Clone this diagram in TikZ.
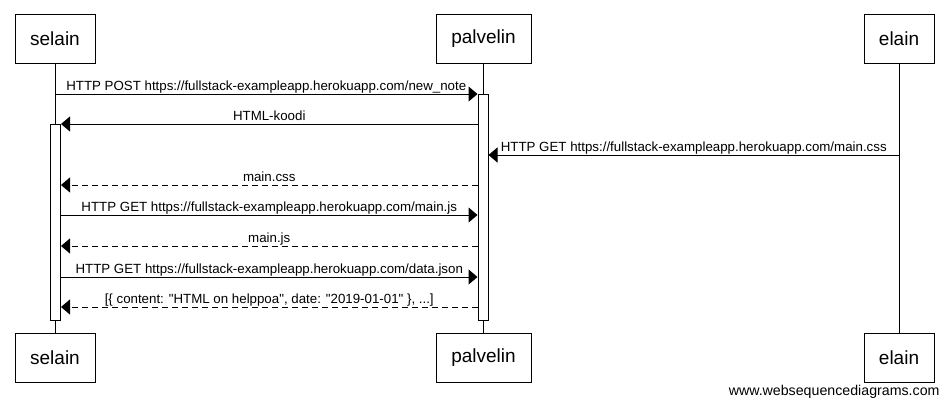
\documentclass[tikz,border=0pt]{standalone}
\usepackage{fontspec}
\setmainfont{Liberation Sans}[Ligatures=TeXOff]
\usetikzlibrary{arrows.meta,calc}
\begin{document}
\begin{tikzpicture}[x=1pt,y=-1pt,line width=1pt,
  head/.style={draw,fill=white,minimum height=49pt,inner sep=0pt,font=\fontsize{19}{22}\selectfont},
  act/.style={draw,fill=white,minimum width=10pt,inner sep=0pt},
  life/.style={draw},
  msg/.style={-{Triangle[length=9pt,width=15pt]}},
  reply/.style={msg,dash pattern=on 6pt off 4pt},
  lbl/.style={anchor=base,inner sep=0pt,font=\fontsize{13.3}{15}\selectfont}]
\useasboundingbox (0,0) rectangle (949,407);
% heads
\node[head,minimum width=80pt] (sTop) at (55,38.5) {selain};
\node[head,minimum width=95pt] (pTop) at (483.5,38.5) {palvelin};
\node[head,minimum width=70pt] (eTop) at (899,38.5) {elain};
\node[head,minimum width=80pt] (sBot) at (55,357.5) {selain};
\node[head,minimum width=95pt] (pBot) at (483.5,357.5) {palvelin};
\node[head,minimum width=70pt] (eBot) at (899,357.5) {elain};
% lifelines
\draw[life] (55,63) coordinate (sL1) -- (55,333) coordinate (sL2);
\draw[life] (483,63) coordinate (pL1) -- (483,333) coordinate (pL2);
\draw[life] (899,63) coordinate (eL1) -- (899,333) coordinate (eL2);
% activations
\node[act,minimum height=226pt] (actP) at (483,207) {};
\node[act,minimum height=196pt] (actS) at (55.5,222) {};
% message rows
\coordinate (y1) at (0,94);
\coordinate (y2) at (0,124);
\coordinate (y3) at (0,155);
\coordinate (y4) at (0,185);
\coordinate (y5) at (0,215);
\coordinate (y6) at (0,246);
\coordinate (y7) at (0,277);
\coordinate (y8) at (0,307);
% messages
\draw[msg] (sL1 |- y1) -- node[lbl,yshift=4pt] {HTTP POST https://fullstack-exampleapp.herokuapp.com/new\_note} (actP.west |- y1);
\draw[msg] (actP.west |- y2) -- node[lbl,yshift=4pt] {HTML-koodi} (actS.east |- y2);
\draw[msg] (eL1 |- y3) -- node[lbl,yshift=4pt] {HTTP GET https://fullstack-exampleapp.herokuapp.com/main.css} (actP.east |- y3);
\draw[reply] (actP.west |- y4) -- node[lbl,yshift=4pt] {main.css} (actS.east |- y4);
\draw[msg] (actS.east |- y5) -- node[lbl,yshift=4pt] {HTTP GET https://fullstack-exampleapp.herokuapp.com/main.js} (actP.west |- y5);
\draw[reply] (actP.west |- y6) -- node[lbl,yshift=4pt] {main.js} (actS.east |- y6);
\draw[msg] (actS.east |- y7) -- node[lbl,yshift=4pt] {HTTP GET https://fullstack-exampleapp.herokuapp.com/data.json} (actP.west |- y7);
\draw[reply] (actP.west |- y8) -- node[lbl,yshift=4pt] {[\{ content: "HTML on helppoa", date: "2019-01-01" \}, ...]} (actS.east |- y8);
% footer
\node[anchor=base east,inner sep=0pt,font=\fontsize{14.2}{16}\selectfont] (foot) at (940,395) {www.websequencediagrams.com};
\end{tikzpicture}
\end{document}
